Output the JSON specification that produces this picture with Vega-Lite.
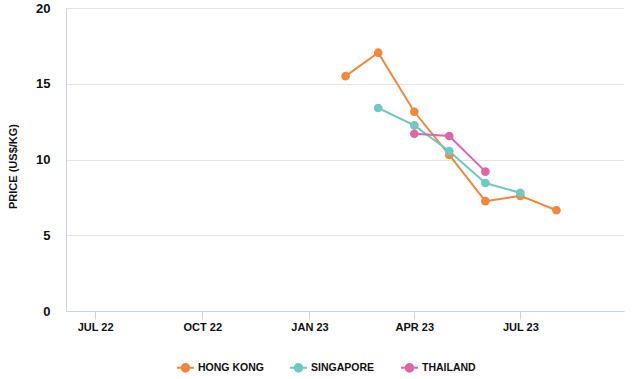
{
  "$schema": "https://vega.github.io/schema/vega-lite/v6.json",
  "width": 558,
  "height": 303,
  "autosize": {"type": "none"},
  "padding": {"left": 66, "top": 8, "right": 18, "bottom": 68},
  "background": "white",
  "config": {
    "view": {"stroke": null},
    "font": "Liberation Sans"
  },
  "data": {
    "values": [
      {"date": "2023-02-01", "country": "HONG KONG", "price": 15.5},
      {"date": "2023-03-01", "country": "HONG KONG", "price": 17.05},
      {"date": "2023-04-01", "country": "HONG KONG", "price": 13.15},
      {"date": "2023-05-01", "country": "HONG KONG", "price": 10.3},
      {"date": "2023-06-01", "country": "HONG KONG", "price": 7.25},
      {"date": "2023-07-01", "country": "HONG KONG", "price": 7.6},
      {"date": "2023-08-01", "country": "HONG KONG", "price": 6.65},
      {"date": "2023-03-01", "country": "SINGAPORE", "price": 13.4},
      {"date": "2023-04-01", "country": "SINGAPORE", "price": 12.25},
      {"date": "2023-05-01", "country": "SINGAPORE", "price": 10.55},
      {"date": "2023-06-01", "country": "SINGAPORE", "price": 8.45},
      {"date": "2023-07-01", "country": "SINGAPORE", "price": 7.8},
      {"date": "2023-04-01", "country": "THAILAND", "price": 11.7},
      {"date": "2023-05-01", "country": "THAILAND", "price": 11.55},
      {"date": "2023-06-01", "country": "THAILAND", "price": 9.2}
    ]
  },
  "mark": {"type": "line", "point": {"size": 75, "filled": true, "opacity": 1}, "strokeWidth": 2},
  "encoding": {
    "x": {
      "field": "date",
      "type": "temporal",
      "scale": {"type": "utc", "domain": ["2022-06-06", "2023-09-28"]},
      "axis": {
        "title": null,
        "values": ["2022-07-01", "2022-10-01", "2023-01-01", "2023-04-01", "2023-07-01"],
        "labelExpr": "upper(utcFormat(datum.value, '%b %y'))",
        "grid": false,
        "domainColor": "#c9d1e3",
        "tickColor": "#c9d1e3",
        "tickSize": 8,
        "labelPadding": 2,
        "labelFontSize": 11,
        "labelFontWeight": "bold",
        "labelColor": "#111111",
        "labelFlush": false
      }
    },
    "y": {
      "field": "price",
      "type": "quantitative",
      "scale": {"domain": [0, 20]},
      "axis": {
        "title": "PRICE (US$/KG)",
        "titleFontSize": 11,
        "titleFontWeight": "bold",
        "titleColor": "#111111",
        "titlePadding": 17,
        "titleY": 158,
        "values": [0, 5, 10, 15, 20],
        "ticks": false,
        "labelPadding": 16,
        "labelFontSize": 13,
        "labelFontWeight": "bold",
        "labelColor": "#111111",
        "domainColor": "#c9d1e3",
        "gridColor": "#e3e3e3",
        "gridWidth": 1.2
      }
    },
    "color": {
      "field": "country",
      "type": "nominal",
      "scale": {"domain": ["HONG KONG", "SINGAPORE", "THAILAND"], "range": ["#f4873b", "#6ccac3", "#e065a8"]},
      "legend": {
        "title": null,
        "orient": "none",
        "direction": "horizontal",
        "legendX": 110,
        "legendY": 350,
        "symbolType": "M-1,0L1,0M-0.45,0A0.45,0.45,0,1,0,0.45,0A0.45,0.45,0,1,0,-0.45,0Z",
        "symbolSize": 289,
        "symbolStrokeWidth": 2,
        "labelFontSize": 10.5,
        "labelFontWeight": "bold",
        "labelColor": "#111111",
        "labelOffset": 3,
        "columnPadding": 22
      }
    }
  }
}
